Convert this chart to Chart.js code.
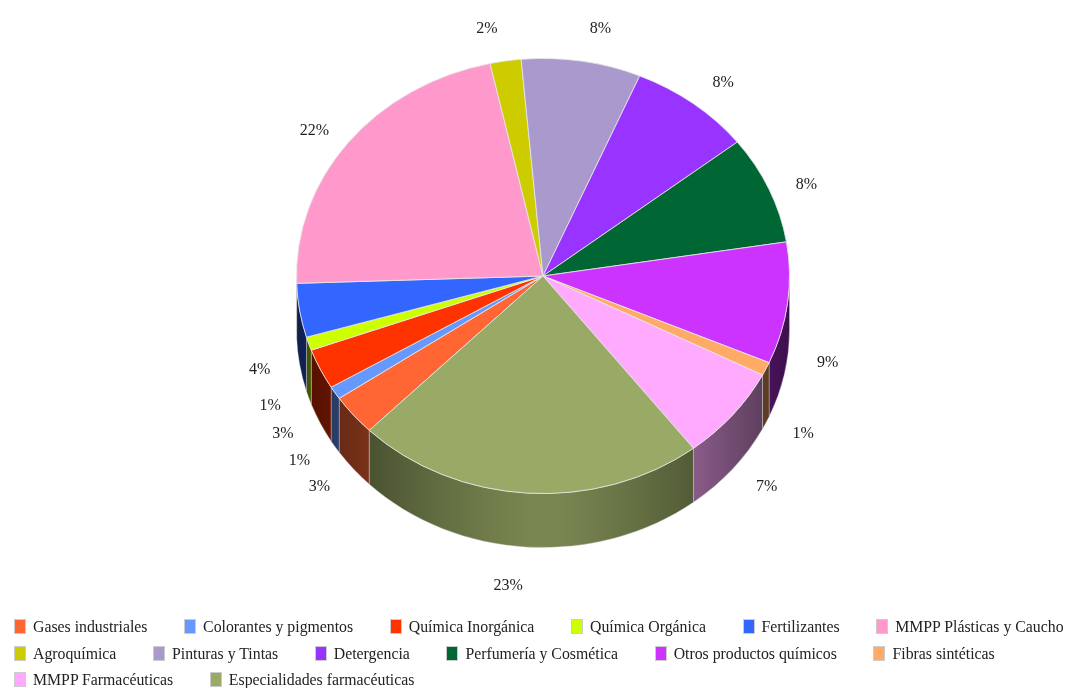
<!DOCTYPE html>
<html>
<head>
<meta charset="utf-8">
<script src="https://cdn.jsdelivr.net/npm/chart.js@4/dist/chart.umd.js"></script>
<style>
html,body{margin:0;padding:0;background:#fff;overflow:hidden}
#wrap{position:relative;width:1070px;height:688px;filter:blur(0.4px)}
canvas{position:absolute;left:0;top:0}
#legend{position:absolute;left:14px;top:613px;width:1060px;font:15.8px "Liberation Serif",serif;color:#222}
.row{height:26.6px;line-height:27.5px;white-space:nowrap}
.item{display:inline-block;margin-right:36.6px}
.box{display:inline-block;width:10px;height:13px;border:1px solid #ccc;margin-right:7px;vertical-align:-2px}
</style>
</head>
<body>
<div id="wrap"><canvas id="c" width="1070" height="688"></canvas><div id="legend"></div></div>
<script>
const categories = ["Gases industriales","Colorantes y pigmentos","Química Inorgánica","Química Orgánica","Fertilizantes","MMPP Plásticas y Caucho","Agroquímica","Pinturas y Tintas","Detergencia","Perfumería y Cosmética","Otros productos químicos","Fibras sintéticas","MMPP Farmacéuticas","Especialidades farmacéuticas"];
const shares = [3.05,0.97,3.0,1.0,4.0,22.1,2.03,7.83,8.03,8.05,9.03,1.0,7.03,22.9];
const colors = ["#ff6633","#6699ff","#ff3300","#ccff00","#3366ff","#ff99cc","#cccc00","#aa99cc","#9933ff","#006633","#cc33ff","#ffaa66","#ffaaff","#99aa66"];
const legendRows = [6,6,2];
const firstSliceAngle = 224.8;
const squash = 218/247, depth = 54;

function rgb(h){return [1,3,5].map(i=>parseInt(h.substr(i,2),16));}
function shade(h,f){const c=rgb(h).map(v=>Math.round(v*f));return `rgb(${c})`;}

const pie3d = {
  id:'pie3d',
  beforeDatasetsDraw(chart){
    const ctx=chart.ctx, arcs=chart.getDatasetMeta(0).data;
    const cx=arcs[0].x, cy=arcs[0].y, R=arcs[0].outerRadius, Ry=R*squash;
    const light=x=>0.8-0.5*Math.pow(Math.min(1,Math.abs(x-cx)/R),1.3);
    arcs.forEach((a,i)=>{
      for(let k=-1;k<=1;k++){
        const lo=Math.max(a.startAngle,2*Math.PI*k), hi=Math.min(a.endAngle,2*Math.PI*k+Math.PI);
        if(hi<=lo) continue;
        const x1=cx+R*Math.cos(lo), x2=cx+R*Math.cos(hi);
        const l=Math.min(x1,x2), r=Math.max(x1,x2);
        const g=ctx.createLinearGradient(l,0,r,0);
        for(let s=0;s<=10;s++){const x=l+(r-l)*s/10;g.addColorStop(s/10,shade(colors[i],light(x)));}
        ctx.beginPath();
        ctx.ellipse(cx,cy,R,Ry,0,lo,hi,false);
        ctx.ellipse(cx,cy+depth,R,Ry,0,hi,lo,true);
        ctx.closePath();
        ctx.fillStyle=g;ctx.fill();
        ctx.strokeStyle='rgba(225,225,225,0.35)';ctx.lineWidth=1;ctx.stroke();
      }
    });
    ctx.save();
    ctx.translate(0,cy);ctx.scale(1,squash);ctx.translate(0,-cy);
  },
  afterDatasetsDraw(chart){
    const ctx=chart.ctx;
    ctx.restore();
    const arcs=chart.getDatasetMeta(0).data;
    ctx.save();
    ctx.font='16px "Liberation Serif",serif';
    ctx.fillStyle='#222';ctx.textAlign='center';ctx.textBaseline='middle';
    arcs.forEach((a,i)=>{
      const m=(a.startAngle+a.endAngle)/2, c=Math.cos(m), s=Math.sin(m), as=Math.abs(s);
      const x=a.x+287*c+Math.sign(c)*(s>0?17:13)*Math.pow(s,4);
      const y=a.y+Math.sign(s)*(215*as+36*s*s)+(s>0?59:0);
      ctx.fillText(Math.round(shares[i])+'%',x,y);
    });
    ctx.restore();
  }
};

const chart = new Chart(document.getElementById('c'),{
  type:'pie',
  data:{labels:categories,datasets:[{data:shares,backgroundColor:colors,borderColor:'rgba(230,230,230,0.9)',borderWidth:1,clip:false}]},
  options:{
    responsive:false,animation:false,rotation:firstSliceAngle,
    layout:{padding:{left:296,right:280,top:29,bottom:165}},
    plugins:{legend:{display:false},tooltip:{enabled:false}}
  },
  plugins:[pie3d]
});

const leg=document.getElementById('legend');
let idx=0;
legendRows.forEach(n=>{
  const row=document.createElement('div');row.className='row';
  for(let j=0;j<n;j++,idx++){
    const it=document.createElement('span');it.className='item';
    const b=document.createElement('span');b.className='box';b.style.background=colors[idx];
    it.appendChild(b);it.appendChild(document.createTextNode(categories[idx]));
    row.appendChild(it);
  }
  leg.appendChild(row);
});
</script>
</body>
</html>
